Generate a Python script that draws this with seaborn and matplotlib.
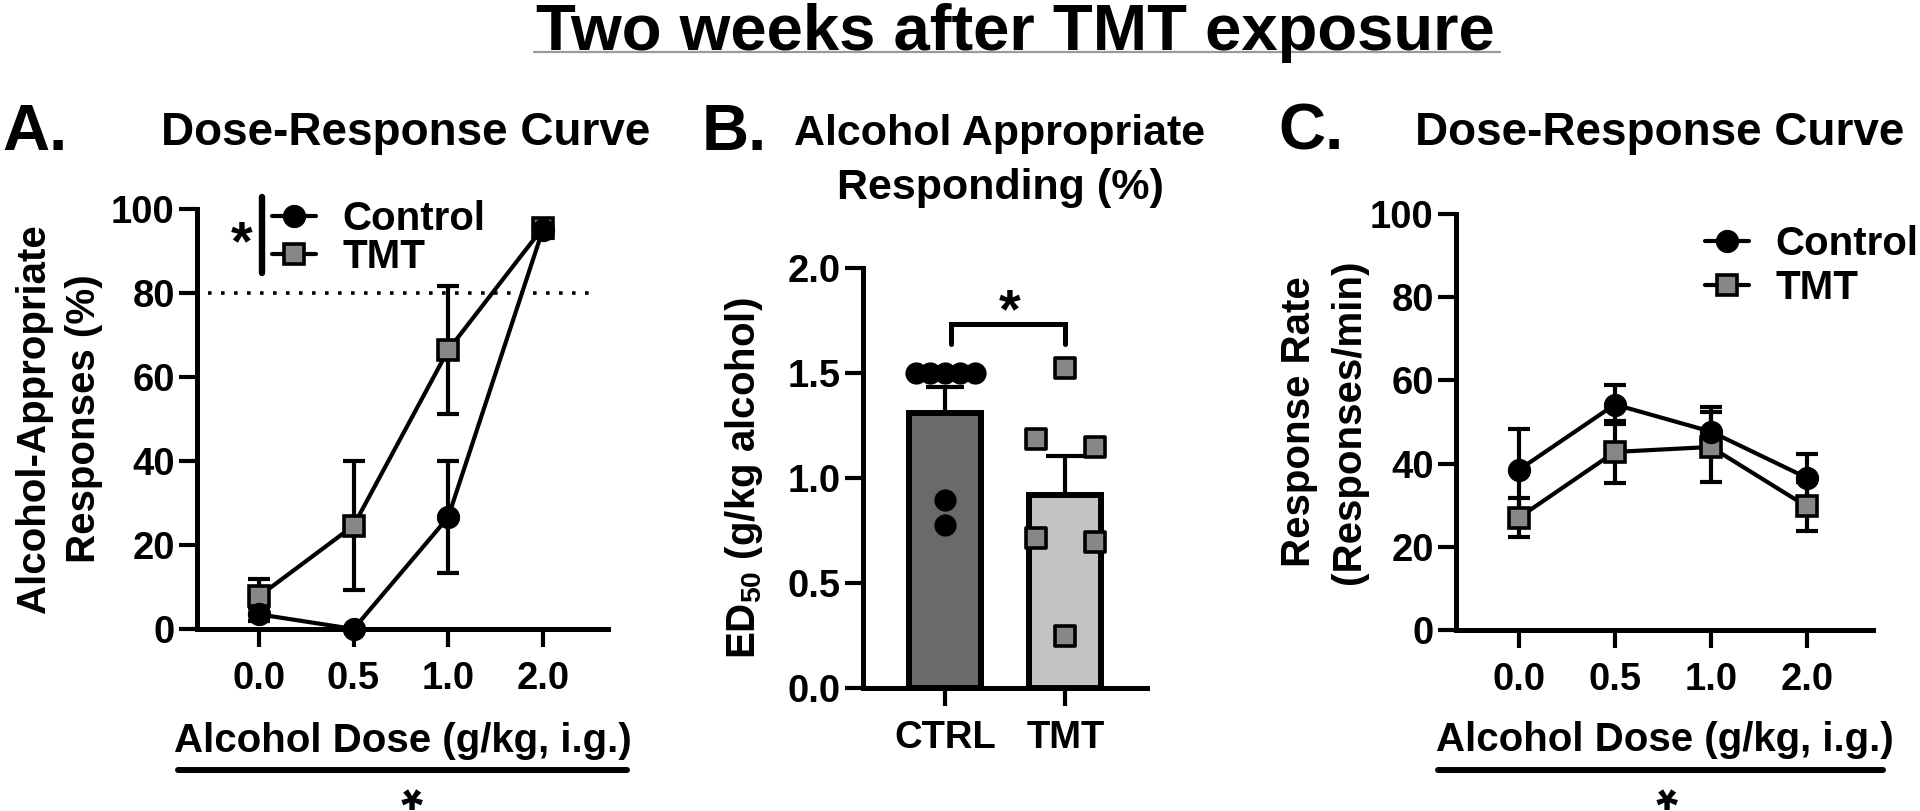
import numpy as np
import pandas as pd
import matplotlib
matplotlib.use('Agg')
import matplotlib.pyplot as plt
import seaborn as sns
from matplotlib.lines import Line2D

# ---------------- data ----------------
doses = ['0.0', '0.5', '1.0', '2.0']
group_labels = ['Control', 'TMT']

a_ctrl_mean = [3.5, 0.0, 26.6, 95.0]
a_ctrl_sem = [1.5, 0.0, 13.3, 2.0]
a_tmt_mean = [7.8, 24.6, 66.4, 95.5]
a_tmt_sem = [4.2, 15.3, 15.3, 2.0]

b_categories = ['CTRL', 'TMT']
b_ctrl_ed50 = [1.5, 1.5, 1.5, 1.5, 1.5, 0.895, 0.776]
b_tmt_ed50 = [1.524, 1.186, 1.148, 0.714, 0.695, 0.25]

c_ctrl_mean = [38.5, 54.2, 47.7, 36.6]
c_ctrl_sem = [9.9, 4.8, 5.9, 5.6]
c_tmt_mean = [27.0, 42.8, 44.0, 29.7]
c_tmt_sem = [4.7, 7.5, 8.5, 5.8]

pct_yticks = [0, 20, 40, 60, 80, 100]
ed50_yticks = [0.0, 0.5, 1.0, 1.5, 2.0]
criterion = 80

# ---------------- style ----------------
sns.set_theme(style='ticks')
plt.rcParams['font.family'] = ['Liberation Sans', 'DejaVu Sans']
plt.rcParams.update({
    'font.weight': 'bold', 'axes.labelweight': 'bold', 'axes.titleweight': 'bold',
    'mathtext.fontset': 'custom', 'mathtext.rm': 'Liberation Sans:bold',
    'mathtext.it': 'Liberation Sans:bold', 'mathtext.bf': 'Liberation Sans:bold',
    'mathtext.default': 'rm',
    'axes.linewidth': 3.6, 'axes.edgecolor': 'black',
    'xtick.major.width': 3, 'ytick.major.width': 3,
    'xtick.major.size': 13, 'ytick.major.size': 13,
    'xtick.color': 'black', 'ytick.color': 'black',
    'text.color': 'black', 'axes.labelcolor': 'black',
})

W, H = 1920, 811
fig = plt.figure(figsize=(19.2, 8.11), dpi=100)


def fx(x):
    return x / W


def fy(y):
    return 1 - y / H


GRAY_MK = '#878787'
TICK_FS = 27.5
LABEL_FS = 29
TITLE_FS = 33
LETTER_FS = 47
STAR_FS = 40
STAR_EM = STAR_FS * 100 / 72


def star(x, y):
    # asterisk whose glyph is centred near (x, y) figure pixels
    fig.text(fx(x), fy(y + 0.49 * STAR_EM), '*', ha='center', va='baseline',
             fontsize=STAR_FS)


def star_low(x, y):
    # same glyph, turned half a turn so its box stays inside the bottom edge
    fig.text(fx(x), fy(y + 0.24 * STAR_EM), '*', ha='center', va='bottom',
             rotation=180, fontsize=STAR_FS)


axA = fig.add_axes([fx(197), fy(629), fx(608) - fx(197), fy(209) - fy(629)])
axB = fig.add_axes([fx(863), fy(688), fx(1147) - fx(863), fy(268) - fy(688)])
axC = fig.add_axes([fx(1456), fy(630), fx(1873) - fx(1456), fy(214) - fy(630)])


def dose_panel(ax, ctrl_m, ctrl_s, tmt_m, tmt_s):
    pos = np.arange(len(doses))
    for m, s in ((tmt_m, tmt_s), (ctrl_m, ctrl_s)):
        ax.errorbar(pos, m, yerr=s, fmt='none', ecolor='black', elinewidth=3,
                    capsize=8, capthick=3, zorder=2, clip_on=False)
    sns.lineplot(x=pos, y=tmt_m, ax=ax, color='black', lw=3, marker='s',
                 markersize=15, markerfacecolor=GRAY_MK, markeredgecolor='black',
                 markeredgewidth=2.6, label='TMT', zorder=3, clip_on=False)
    sns.lineplot(x=pos, y=ctrl_m, ax=ax, color='black', lw=3, marker='o',
                 markersize=16, markerfacecolor='black', markeredgecolor='black',
                 label='Control', zorder=4, clip_on=False)
    ax.set_xlim(-0.655, 3.69)
    ax.set_ylim(0, 100)
    ax.set_xticks(pos, doses)
    ax.set_yticks(pct_yticks)
    ax.tick_params(axis='x', pad=10, labelsize=TICK_FS)
    ax.tick_params(axis='y', pad=3, labelsize=TICK_FS)
    sns.despine(ax=ax)
    ax.set_xlabel('Alcohol Dose (g/kg, i.g.)', fontsize=LABEL_FS)
    ax.xaxis.label.set_va('baseline')
    ax.xaxis.set_label_coords(0.5, -0.292)


def dose_legend(ax, x0, y0, spacing):
    h, l = ax.get_legend_handles_labels()
    idx = [l.index(g) for g in group_labels]
    ax.legend([h[i] for i in idx], [l[i] for i in idx], loc='upper left',
              bbox_to_anchor=(fx(x0), fy(y0)), bbox_transform=fig.transFigure,
              frameon=False, fontsize=LABEL_FS, handlelength=1.1,
              handletextpad=0.65, labelspacing=spacing, borderpad=0, borderaxespad=0)


# ---------------- Panel A ----------------
dose_panel(axA, a_ctrl_mean, a_ctrl_sem, a_tmt_mean, a_tmt_sem)
axA.hlines(criterion, -0.54, 3.52, colors='black', linestyles=(0, (1, 2.6)), lw=2.6, zorder=1)
axA.set_ylabel('Alcohol-Appropriate\nResponses (%)', fontsize=LABEL_FS,
               multialignment='center', linespacing=1.4)
axA.yaxis.set_label_coords(-0.228, 0.5)
dose_legend(axA, 272, 200, 0.0)
fig.add_artist(Line2D([fx(262)] * 2, [fy(197), fy(273)], lw=4.6, color='black'))
star(242, 232)

# ---------------- Panel B ----------------
dfB = pd.DataFrame({'group': ['CTRL'] * len(b_ctrl_ed50) + ['TMT'] * len(b_tmt_ed50),
                    'ed50': b_ctrl_ed50 + b_tmt_ed50})
sns.barplot(data=dfB, x='group', y='ed50', hue='group', order=b_categories,
            hue_order=b_categories, palette={'CTRL': '#6a6a6a', 'TMT': '#c3c3c3'},
            errorbar=None, width=0.6, edgecolor='black', linewidth=4.3,
            legend=False, ax=axB, zorder=2)
stats = dfB.groupby('group')['ed50'].agg(['mean', 'sem']).loc[b_categories]
axB.errorbar(np.arange(len(b_categories)), stats['mean'],
             yerr=[np.zeros(len(b_categories)), stats['sem']], fmt='none',
             ecolor='black', elinewidth=3, capsize=14, capthick=3, zorder=3)


def spread_offsets(values, tol=0.1, half_width=0.245):
    v = np.asarray(values, float)
    order = np.argsort(-v, kind='stable')
    offs = np.zeros(len(v))
    clusters = []
    for i in order:
        if clusters and abs(v[clusters[-1][-1]] - v[i]) < tol:
            clusters[-1].append(i)
        else:
            clusters.append([i])
    for c in clusters:
        if len(c) > 1:
            offs[c] = np.linspace(-half_width, half_width, len(c))
    return offs


sns.scatterplot(x=0 + spread_offsets(b_ctrl_ed50), y=b_ctrl_ed50, marker='o', s=16 ** 2,
                color='black', edgecolor='black', linewidth=0, ax=axB, zorder=5,
                clip_on=False, legend=False)
sns.scatterplot(x=1 + spread_offsets(b_tmt_ed50), y=b_tmt_ed50, marker='s', s=14.5 ** 2,
                color=GRAY_MK, edgecolor='black', linewidth=2.6, ax=axB, zorder=5,
                clip_on=False, legend=False)
axB.set_xlim(-0.683, 1.68)
axB.set_ylim(0, 2)
axB.set_xticks([0, 1], b_categories)
axB.set_yticks(ed50_yticks, [f'{v:.1f}' for v in ed50_yticks])
axB.set_xlabel('')
axB.tick_params(axis='x', pad=10, labelsize=TICK_FS)
axB.tick_params(axis='y', pad=3, labelsize=TICK_FS)
sns.despine(ax=axB)
axB.set_ylabel('ED$_{50}$ (g/kg alcohol)', fontsize=LABEL_FS)
axB.yaxis.set_label_coords(-0.345, 0.5)
axB.plot([0.05, 0.05, 1.0, 1.0], [1.64, 1.733, 1.733, 1.64], color='black', lw=3.6,
         solid_joinstyle='miter', zorder=4)
star(1010, 300)

# ---------------- Panel C ----------------
dose_panel(axC, c_ctrl_mean, c_ctrl_sem, c_tmt_mean, c_tmt_sem)
axC.set_ylabel('Response Rate\n(Responses/min)', fontsize=LABEL_FS,
               multialignment='center', linespacing=1.4)
axC.yaxis.set_label_coords(-0.21, 0.5)
dose_legend(axC, 1705, 225, 0.15)

# ---------------- underlines and stars under x labels ----------------
for x0, x1, xs in ((178, 627, 412), (1438, 1883, 1667)):
    fig.add_artist(Line2D([fx(x0), fx(x1)], [fy(770)] * 2, lw=4.3, color='black'))
    star_low(xs, 797)

# ---------------- titles ----------------
fig.text(fx(1015), fy(50), 'Two weeks after TMT exposure', ha='center', va='baseline',
         fontsize=47)
fig.add_artist(Line2D([fx(534), fx(1500)], [fy(52)] * 2, lw=1.6, color='#9a9a9a'))

fig.text(fx(2), fy(150), 'A.', ha='left', va='baseline', fontsize=LETTER_FS)
fig.text(fx(702), fy(150), 'B.', ha='left', va='baseline', fontsize=LETTER_FS)
fig.text(fx(1278), fy(150), 'C.', ha='left', va='baseline', fontsize=LETTER_FS)

fig.text(fx(406), fy(145), 'Dose-Response Curve', ha='center', va='baseline', fontsize=TITLE_FS)
fig.text(fx(1000), fy(145), 'Alcohol Appropriate', ha='center', va='baseline', fontsize=31)
fig.text(fx(1000), fy(199), 'Responding (%)', ha='center', va='baseline', fontsize=31)
fig.text(fx(1660), fy(145), 'Dose-Response Curve', ha='center', va='baseline', fontsize=TITLE_FS)

fig.savefig('out.png', dpi=100)
